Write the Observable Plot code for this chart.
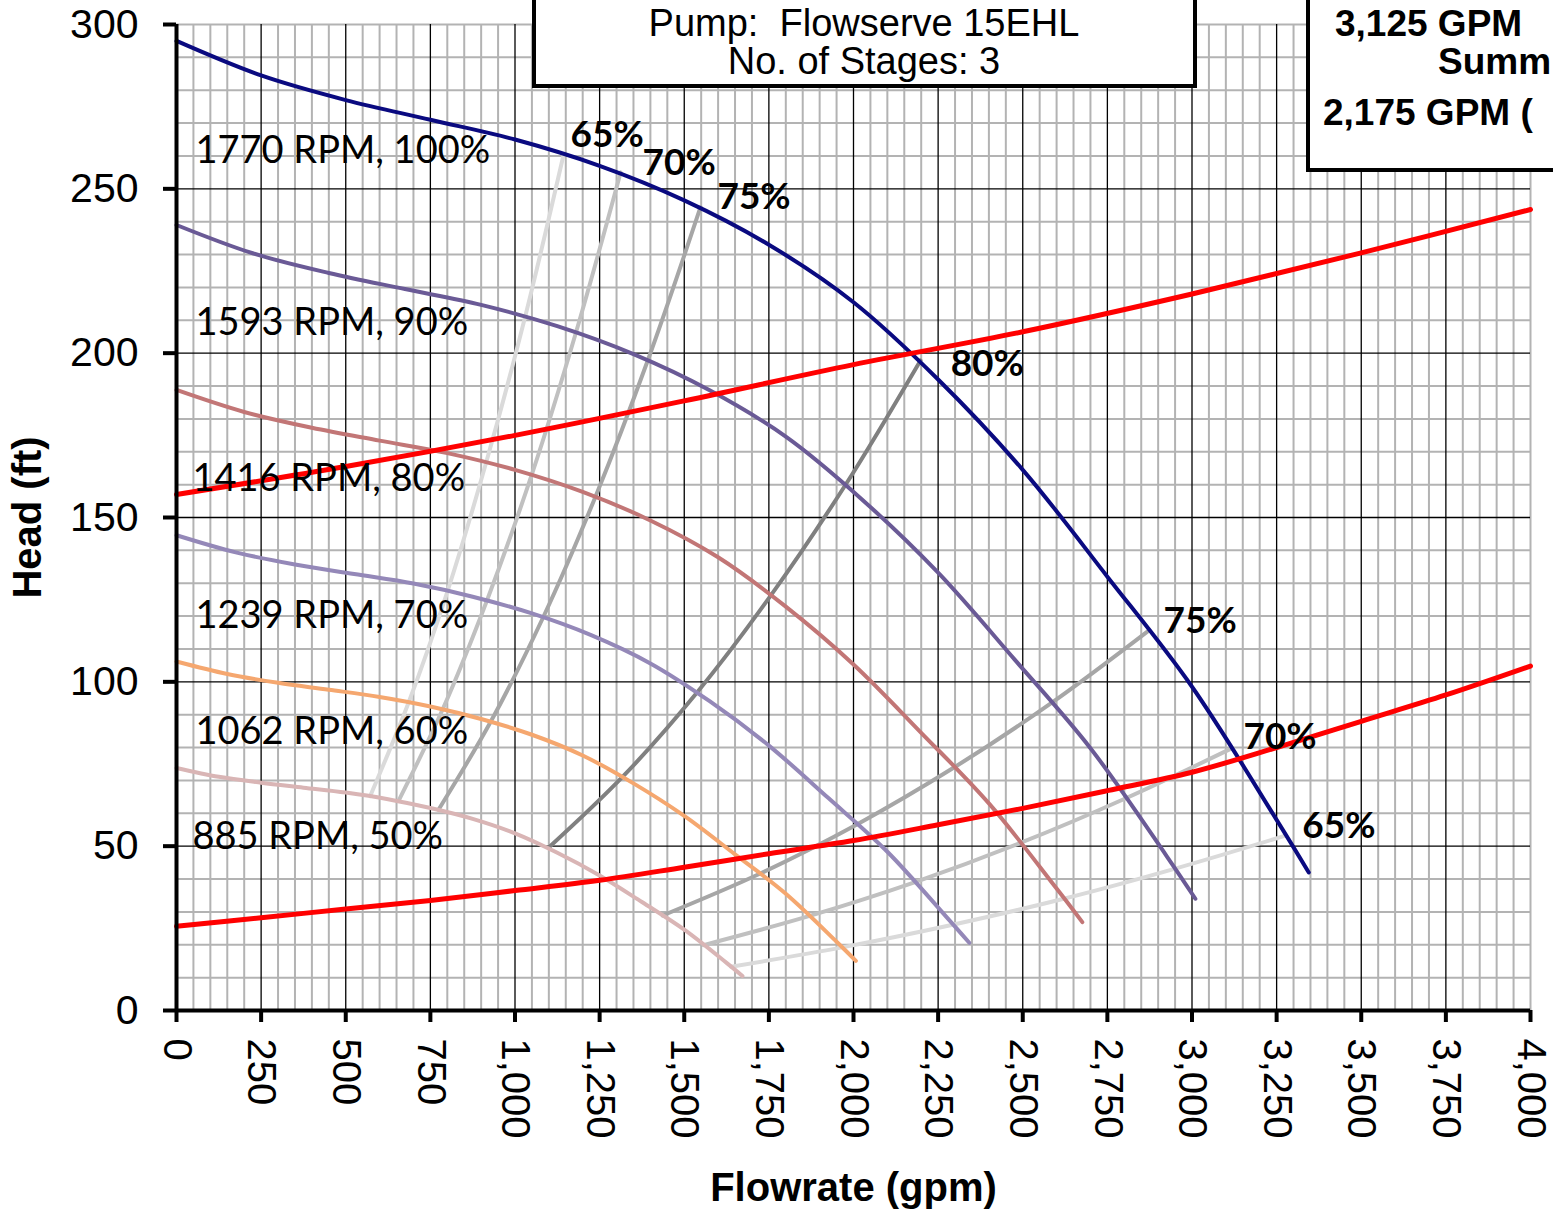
<!DOCTYPE html>
<html><head><meta charset="utf-8">
<script src="https://cdn.jsdelivr.net/npm/d3@7"></script>
<script src="https://cdn.jsdelivr.net/npm/@observablehq/plot@0.6"></script>
<style>
html,body{margin:0;padding:0;background:#fff;overflow:hidden}
#chart{position:relative;width:1553px;height:1213px}
</style>
</head><body><div id="chart"></div>
<script>
// ---- pump curves (flow gpm, head ft) ----
const q1770 = [0,250,500,750,1000,1250,1500,1750,2000,2250,2500,2750,3000,3250,3345];
const h1770 = [295,284.5,277,271,265,257,246.5,233,215.5,192,164.5,132,98.5,58,42];
const q1593 = [0,225,450,675,900,1125,1350,1575,1800,2025,2250,2475,2700,2925,3010];
const h1593 = [239,230.4,224.4,219.5,214.7,208.2,199.7,188.7,174.6,155.5,133.2,106.9,79.8,47,34];
const q1416 = [0,200,400,600,800,1000,1200,1400,1600,1800,2000,2200,2400,2600,2676];
const h1416 = [188.8,182.1,177.3,173.4,169.6,164.5,157.8,149.1,137.9,122.9,105.3,84.5,63,37.1,26.9];
const q1239 = [0,175,350,525,700,875,1050,1225,1400,1575,1750,1925,2100,2275,2342];
const h1239 = [144.6,139.4,135.7,132.8,129.9,125.9,120.8,114.2,105.6,94.1,80.6,64.7,48.3,28.4,20.6];
const q1062 = [0,150,300,450,600,750,900,1050,1200,1350,1500,1650,1800,1950,2007];
const h1062 = [106.2,102.4,99.7,97.6,95.4,92.5,88.7,83.9,77.6,69.1,59.2,47.5,35.5,20.9,15.1];
const q885  = [0,125,250,375,500,625,750,875,1000,1125,1250,1375,1500,1625,1672];
const h885  = [73.8,71.1,69.3,67.8,66.3,64.3,61.6,58.3,53.9,48,41.1,33,24.6,14.5,10.5];

// ---- iso-efficiency lines ----
const qE65a = [1144,1030,915,801,686,572],   hE65a = [260.6,211.1,166.8,127.7,93.8,65.2];
const qE70a = [1312,1181,1050,918,787,656],  hE70a = [255,206.6,163.2,125,91.8,63.8];
const qE75a = [1548,1393,1238,1084,929,774], hE75a = [244.4,198,156.4,119.8,88,61.1];
const qE80  = [2198,1978,1758,1539,1319,1099], hE80 = [197.8,160.2,126.6,96.9,71.2,49.5];
const qE75b = [2872,2585,2298,2010,1723,1436], hE75b = [115.6,93.6,74,56.6,41.6,28.9];
const qE70b = [3114,2803,2491,2180,1868,1557], hE70b = [79.6,64.5,50.9,39,28.7,19.9];
const qE65b = [3276,2948,2621,2293,1966,1638], hE65b = [53.2,43.1,34,26.1,19.2,13.3];

// ---- system curves ----
const qSysHigh = [0,500,1000,1500,2000,2500,3000,3500,4000];
const hSysHigh = [157,165.5,175,185.5,196.5,206.5,218,230.5,243.7];
const qSysLow = [0,250,500,750,1000,1250,1500,1750,2000,2250,2500,2750,3000,3250,3500,3750,4000];
const hSysLow = [25.6,28.2,30.9,33.5,36.5,39.6,43.6,47.7,51.7,56.5,61.5,66.9,72.5,80,88,96,104.8];

// ---- labels ----
const speedLabels = ["1770 RPM, 100%","1593 RPM, 90%","1416 RPM, 80%","1239 RPM, 70%","1062 RPM, 60%","885 RPM, 50%"];
const speedLabelQ = [56,56,47,56,56,47];
const speedLabelH = [261.5,209.3,161.8,120.2,84.9,52.9];
const effLabels = ["65%","70%","75%","80%","75%","70%","65%"];
const effLabelQ = [1164,1377,1598,2287,2916,3152,3326];
const effLabelH = [266.4,257.9,247.4,196.7,118.4,83.2,56];

const xTicks = d3.range(0, 4001, 250);
const yTicks = d3.range(0, 301, 50);
const xMinor = d3.range(0, 4001, 50).filter(v => v % 250 !== 0 || v === 4000);
const yMinor = d3.range(0, 301, 10).filter(v => v % 50 !== 0 || v === 300);
const xMajor = d3.range(250, 3751, 250);
const yMajor = d3.range(50, 251, 50);

const rows = (qs, hs) => qs.map((q, i) => ({q, h: hs[i]}));
const ln = (qs, hs, stroke, w) => Plot.line(rows(qs, hs), {x: "q", y: "h", stroke, strokeWidth: w, curve: "catmull-rom"});

const speedRows = speedLabels.map((t, i) => ({t, q: speedLabelQ[i], h: speedLabelH[i]}));
const effRows = effLabels.map((t, i) => ({t, q: effLabelQ[i], h: effLabelH[i]}));

const plot = Plot.plot({
  width: 1553, height: 1213,
  marginLeft: 176, marginRight: 23, marginTop: 24, marginBottom: 203,
  x: {domain: [0, 4000]},
  y: {domain: [0, 300]},
  style: {fontFamily: "'Liberation Sans', Arial, sans-serif", fontSize: "40px", background: "white", color: "black"},
  marks: [
    Plot.gridX(xMinor, {stroke: "#b3b3b3", strokeOpacity: 1, strokeWidth: 2}),
    Plot.gridY(yMinor, {stroke: "#b3b3b3", strokeOpacity: 1, strokeWidth: 2}),
    Plot.gridX(xMajor, {stroke: "#000", strokeOpacity: 1, strokeWidth: 1.3}),
    Plot.gridY(yMajor, {stroke: "#000", strokeOpacity: 1, strokeWidth: 1.3}),
    ln(qE65a, hE65a, "#dadada", 4),
    ln(qE70a, hE70a, "#c0c0c0", 4),
    ln(qE75a, hE75a, "#a6a6a6", 4),
    ln(qE80, hE80, "#808080", 4),
    ln(qE75b, hE75b, "#a6a6a6", 4),
    ln(qE70b, hE70b, "#c0c0c0", 4),
    ln(qE65b, hE65b, "#dadada", 4),
    ln(q885, h885, "#d9b5b5", 4),
    ln(q1062, h1062, "#f5a76f", 4),
    ln(q1239, h1239, "#9488b8", 4),
    ln(q1416, h1416, "#c27676", 4),
    ln(q1593, h1593, "#6a5a96", 4),
    ln(q1770, h1770, "#0a0a80", 4),
    ln(qSysLow, hSysLow, "#ff0000", 5),
    ln(qSysHigh, hSysHigh, "#ff0000", 5),
    Plot.ruleX([0], {stroke: "#000", strokeWidth: 4}),
    Plot.ruleY([0], {stroke: "#000", strokeWidth: 4}),
    Plot.axisX(xTicks, {tickFormat: d3.format(","), tickRotate: 90, tickSize: 12, tickPadding: 16, strokeWidth: 4, label: null, fontSize: 40}),
    Plot.axisY(yTicks, {tickSize: 13, tickPadding: 25, strokeWidth: 4, label: null, fontSize: 41}),
    Plot.text(speedRows, {x: "q", y: "h", text: "t", textAnchor: "start", fontFamily: "Lato", fontSize: 38, fill: "#000"}),
    Plot.text(effRows, {x: "q", y: "h", text: "t", textAnchor: "start", fontFamily: "Lato", fontWeight: "bold", fontSize: 37, fill: "#000"}),
    Plot.text(["Flowrate (gpm)"], {text: d => d, frameAnchor: "bottom", dy: 178, lineAnchor: "middle", textAnchor: "middle", fontWeight: "bold", fontSize: 40}),
    Plot.text(["Head (ft)"], {text: d => d, frameAnchor: "left", dx: -148, rotate: -90, lineAnchor: "middle", textAnchor: "middle", fontWeight: "bold", fontSize: 40})
  ]
});

// annotation boxes
const svg = d3.select(plot);
const g = svg.append("g").attr("text-anchor", "start");
g.append("rect").attr("x", 534).attr("y", -10).attr("width", 661).attr("height", 96)
  .attr("fill", "white").attr("stroke", "black").attr("stroke-width", 4);
g.append("text").attr("x", 864).attr("y", 36).attr("text-anchor", "middle")
  .style("font-size", "38px").style("white-space", "pre").text("Pump:  Flowserve 15EHL");
g.append("text").attr("x", 864).attr("y", 74).attr("text-anchor", "middle")
  .style("font-size", "38px").text("No. of Stages: 3");
g.append("rect").attr("x", 1308).attr("y", -10).attr("width", 400).attr("height", 180)
  .attr("fill", "white").attr("stroke", "black").attr("stroke-width", 4);
g.append("text").attr("x", 1335).attr("y", 36).attr("text-anchor", "start").style("font-size", "37px").style("font-weight", "bold").text("3,125 GPM");
g.append("text").attr("x", 1438).attr("y", 74).attr("text-anchor", "start").style("font-size", "37px").style("font-weight", "bold").text("Summ");
g.append("text").attr("x", 1323).attr("y", 125).attr("text-anchor", "start").style("font-size", "37px").style("font-weight", "bold").text("2,175 GPM (");

document.getElementById("chart").appendChild(plot);
</script>
</body></html>
